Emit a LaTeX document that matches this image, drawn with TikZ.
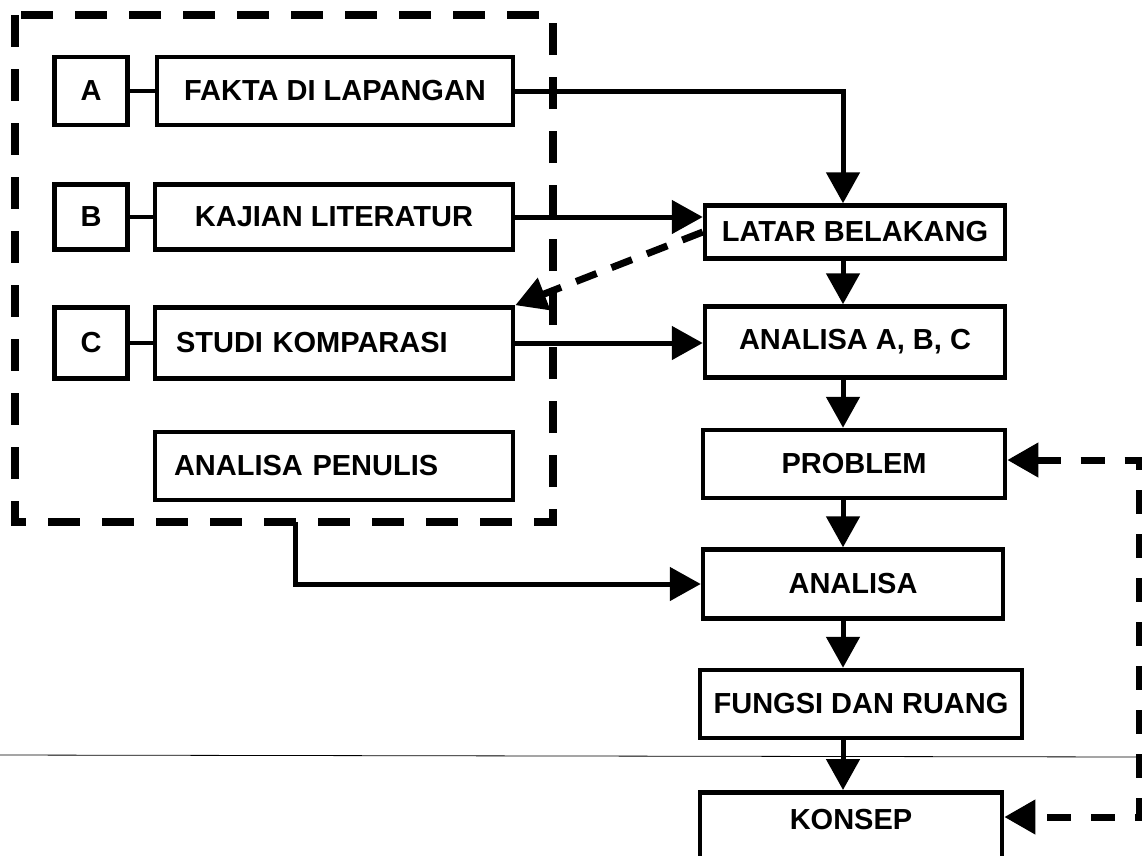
\documentclass[tikz,border=0pt]{standalone}
\usepackage{fontspec}
\setmainfont{Liberation Sans}
\usetikzlibrary{arrows.meta}
\usetikzlibrary{calc}

\tikzset{
  kotak/.style={draw, line width=4.5pt, inner sep=0pt, font=\bfseries\fontsize{29}{32}\selectfont},
  panah/.style={line width=5pt, -{Triangle[length=31pt,width=33pt]}},
  putus/.style={line width=8pt, dash pattern=on 32pt off 22pt},
  hubung/.style={line width=4pt}
}

\begin{document}
\begin{tikzpicture}[x=1pt,y=-1pt]
\useasboundingbox (0,0) rectangle (1142,855);
% garis tipis melintang
\draw[line width=0.8pt] (0,755) -- (1142,757);
% kelompok kiri
\draw[putus] (15,15) rectangle (553,522);
\node[kotak, minimum width=73pt, minimum height=68pt] (a) at (91,91) {A};
\node[kotak, minimum width=356pt, minimum height=68pt] (fakta) at (335,91) {FAKTA DI LAPANGAN};
\node[kotak, minimum width=73pt, minimum height=65pt] (b) at (91,217) {B};
\node[kotak, minimum width=358pt, minimum height=65pt] (kajian) at (334,217) {KAJIAN LITERATUR};
\node[kotak, minimum width=73pt, minimum height=71pt] (c) at (91,343) {C};
\node[kotak, text width=316pt, align=left, inner xsep=21pt, minimum height=71pt] (studi) at (334,343) {STUDI KOMPARASI};
\node[kotak, text width=320pt, align=left, inner xsep=19pt, minimum height=68pt] (penulis) at (334,466) {ANALISA PENULIS};
\foreach \p/\q in {a/fakta, b/kajian, c/studi} {
  \draw[hubung] (\p) -- (\q);
}
% alur kanan
\coordinate (sumbu) at (843,0);
\node[kotak, minimum width=300pt, minimum height=53pt] (latar) at (855,232) {LATAR BELAKANG};
\node[kotak, minimum width=300pt, minimum height=71pt] (abc) at (855,342) {ANALISA A, B, C};
\node[kotak, minimum width=302pt, minimum height=68pt] (problem) at (854,464) {PROBLEM};
\node[kotak, minimum width=300pt, minimum height=69pt] (analisa) at (853,584) {ANALISA};
\node[kotak, minimum width=322pt, minimum height=68pt] (fungsi) at (861,704) {FUNGSI DAN RUANG};
\node[kotak, minimum width=302pt, text height=30pt, text depth=70pt, inner ysep=7pt, anchor=north] (konsep) at (851,790) {KONSEP};
\draw[panah] (fakta.east) -| (sumbu |- latar.north);
\draw[panah] (kajian.east) -- (kajian.east -| latar.west);
\draw[panah] (studi.east) -- (studi.east -| abc.west);
\draw[putus, line width=7pt, dash pattern=on 22pt off 16pt, -{Triangle[length=31pt,width=33pt]}] (latar.west) -- (studi.north east);
\foreach \p/\q in {latar/abc, abc/problem, problem/analisa, analisa/fungsi, fungsi/konsep} {
  \draw[panah] (sumbu |- \p.south) -- (sumbu |- \q.north);
}
\coordinate (keluar) at (295,522);
\draw[panah] (keluar) |- (analisa.west);
% umpan balik
\coordinate (kanan1) at (1139,460);
\coordinate (kanan2) at (1139,817);
\draw[putus, line width=7pt, dash pattern=on 24pt off 20pt, {Triangle[length=31pt,width=33pt]}-{Triangle[length=31pt,width=33pt]}] (problem.east |- kanan1) -- (kanan1) -- (kanan2) -- (konsep.east |- kanan2);
\end{tikzpicture}
\end{document}
